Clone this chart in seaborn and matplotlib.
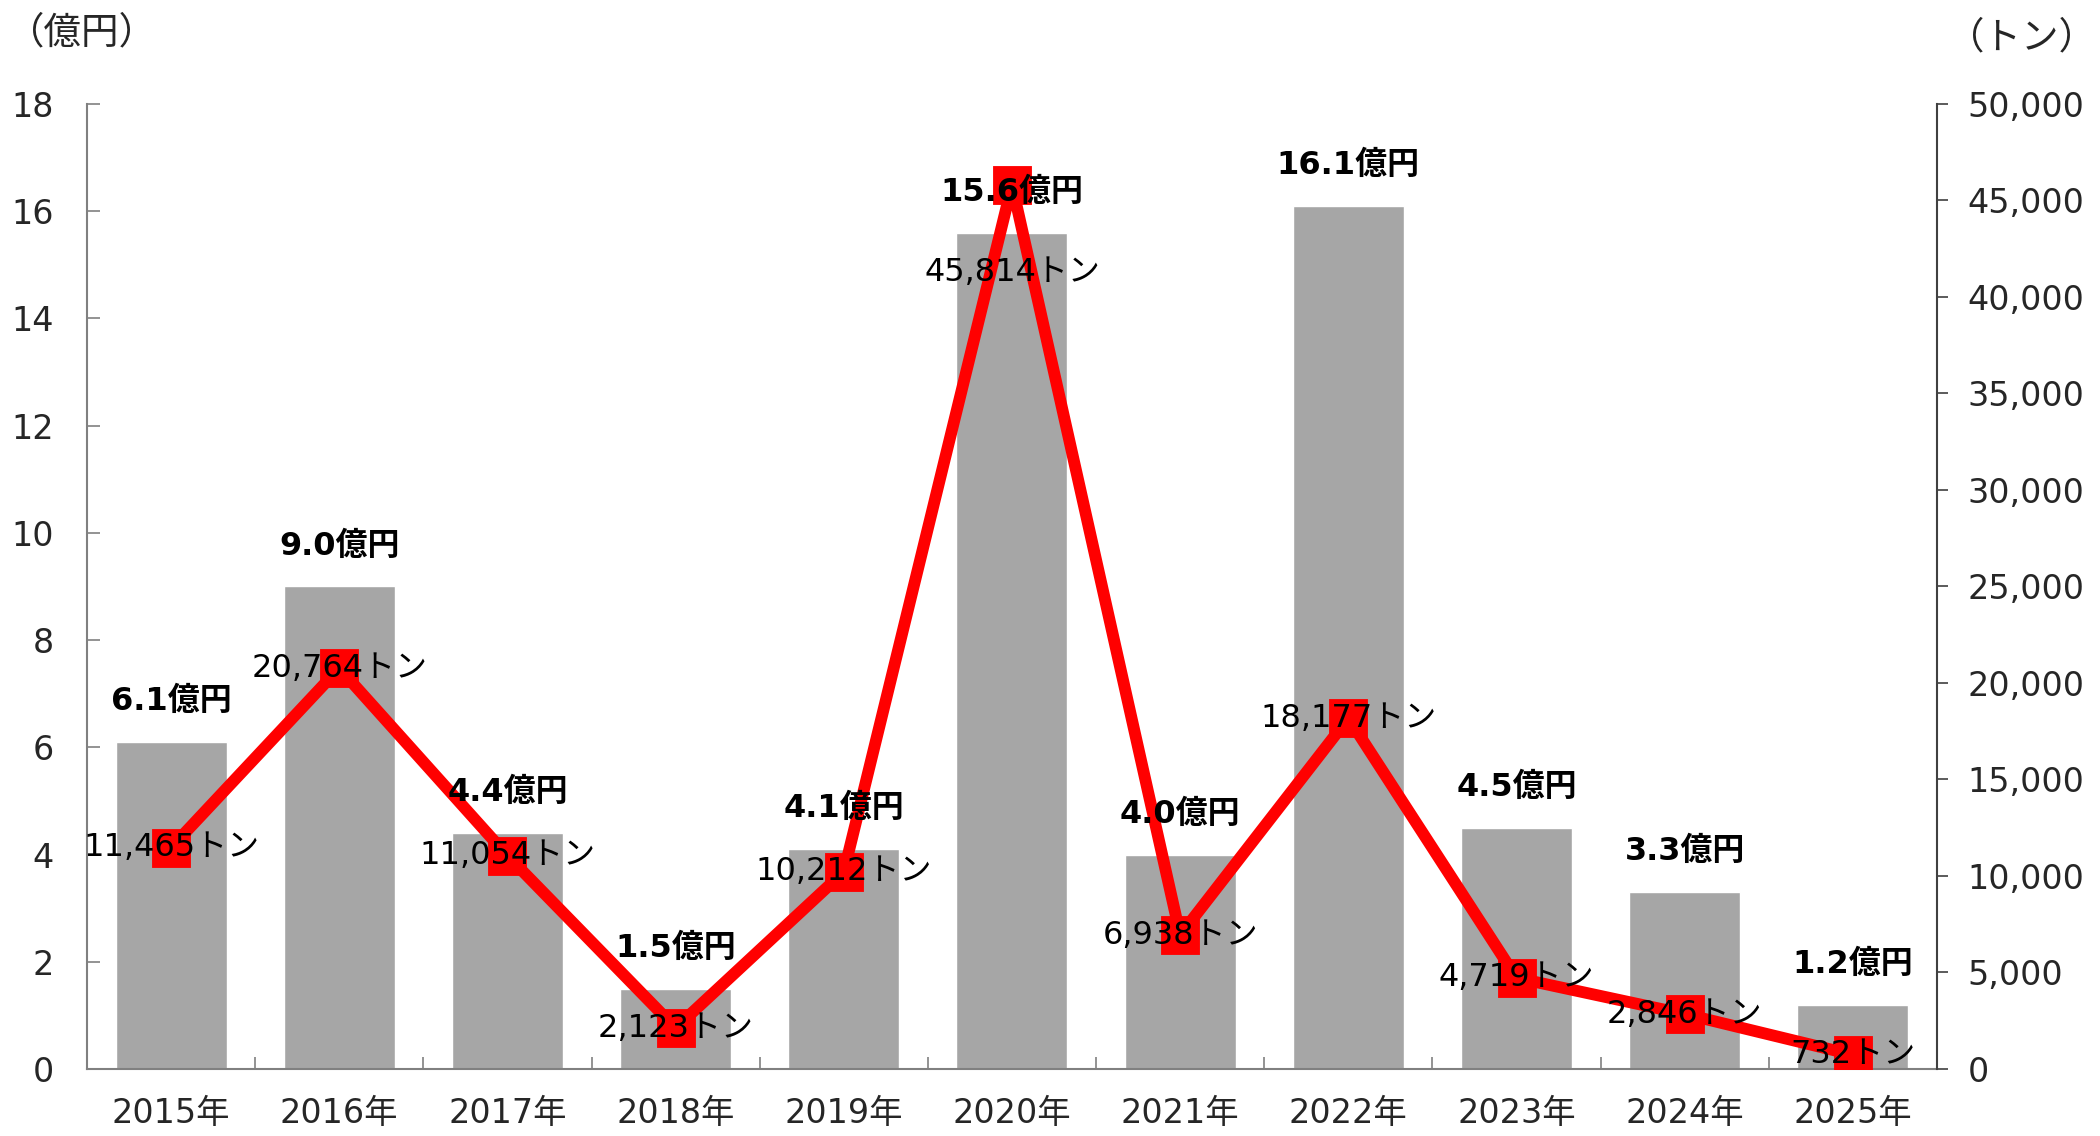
import pandas as pd
import seaborn as sns
import matplotlib.pyplot as plt
from matplotlib.ticker import FuncFormatter, MultipleLocator

sns.set_theme(style="white")
# DejaVu for latin/digits (Verdana-like), Noto CJK for kanji/kana
plt.rcParams['font.family'] = ['DejaVu Sans', 'Noto Sans CJK JP']

years = ['2015年', '2016年', '2017年', '2018年', '2019年', '2020年',
         '2021年', '2022年', '2023年', '2024年', '2025年']
amount_oku = [6.1, 9.0, 4.4, 1.5, 4.1, 15.6, 4.0, 16.1, 4.5, 3.3, 1.2]
volume_ton = [11465, 20764, 11054, 2123, 10212, 45814, 6938, 18177, 4719, 2846, 732]

df = pd.DataFrame({'year': years, 'amount': amount_oku, 'ton': volume_ton})

fig = plt.figure(figsize=(21, 11.36), dpi=100)
ax = fig.add_axes([0.0414, 0.059, 0.881, 0.8495])

sns.barplot(data=df, x='year', y='amount', color='#a6a6a6', saturation=1,
            width=0.66, ax=ax)
ax.set_ylim(0, 18)
ax.yaxis.set_major_locator(MultipleLocator(2))
ax.set_xlim(-0.5, len(years) - 0.5)
ax.set_xlabel('')
ax.set_ylabel('')

ax2 = ax.twinx()
sns.pointplot(data=df, x='year', y='ton', color='#ff0000', markers='s',
              linestyles='-', ax=ax2, markersize=22, linewidth=8.5)
ax2.set_ylim(0, 50000)
ax2.set_xlim(-0.5, len(years) - 0.5)
ax2.yaxis.set_major_locator(MultipleLocator(5000))
ax2.yaxis.set_major_formatter(FuncFormatter(lambda v, p: f'{int(v):,}'))
ax2.set_ylabel('')
ax2.set_xlabel('')

# bar value labels (drawn on ax2 so they sit above the line)
for i, v in enumerate(amount_oku):
    ax2.annotate(f'{v:.1f}億円', (i, v), xycoords=ax.transData, xytext=(0, 29),
                 textcoords='offset points', ha='center', va='center',
                 fontsize=23, fontweight='bold', color='black', zorder=10)

for i, t in enumerate(volume_ton):
    dy = -63 if i == 5 else 0
    ax2.annotate(f'{t:,}トン', (i, t), xytext=(0, dy), textcoords='offset points',
                 ha='center', va='center', fontsize=23, color='black', zorder=10)

# axes styling
for a in (ax, ax2):
    a.spines['top'].set_visible(False)
ax.spines['left'].set_color('#808080')
ax.spines['bottom'].set_color('#808080')
ax.spines['right'].set_visible(False)
ax2.spines['left'].set_visible(False)
ax2.spines['bottom'].set_visible(False)
ax2.spines['right'].set_color('#404040')
for s in ('left', 'bottom'):
    ax.spines[s].set_linewidth(1.5)
ax2.spines['right'].set_linewidth(1.5)

ax.tick_params(axis='y', direction='in', length=9, width=1.2, color='#808080',
               labelsize=24, pad=24, left=True)
ax.tick_params(axis='x', which='major', length=0, labelsize=24, pad=20)
ax.set_xticks([i + 0.5 for i in range(len(years) - 1)], minor=True)
ax.tick_params(axis='x', which='minor', direction='in', length=9, width=1.2,
               color='#808080', bottom=True)
ax2.tick_params(axis='y', direction='out', length=8, width=1.2, color='#404040',
                labelsize=24, pad=14, right=True)

fig.text(0.039, 0.971, '（億円）', ha='center', va='center', fontsize=27)
fig.text(0.963, 0.966, '（トン）', ha='center', va='center', fontsize=27)

fig.savefig('out.png', dpi=100)
